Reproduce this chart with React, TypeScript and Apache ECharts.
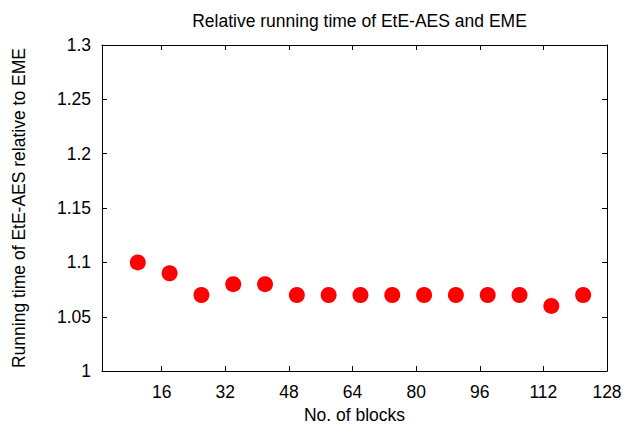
import React, { useEffect, useRef } from "react";
import * as echarts from "echarts";

const blocks = [10, 18, 26, 34, 42, 50, 58, 66, 74, 82, 90, 98, 106, 114, 122];
const ratios = [1.1, 1.09, 1.07, 1.08, 1.08, 1.07, 1.07, 1.07, 1.07, 1.07, 1.07, 1.07, 1.07, 1.06, 1.07];
const xTicks = [16, 32, 48, 64, 80, 96, 112, 128];
const yMin = 1;
const yMax = 1.3;
const yStep = 0.05;
const xMin = 1;
const xMax = 128;

const titleText = "Relative running time of EtE-AES and EME";
const xName = "No. of blocks";
const yName = "Running time of EtE-AES relative to EME";

const FONT = "'Liberation Sans', Arial, sans-serif";
const FS = 17.5;

export default function App() {
  const ref = useRef<HTMLDivElement>(null);
  useEffect(() => {
    if (!ref.current) return;
    const chart = echarts.init(ref.current, null, { renderer: "svg" });
    const line = { show: true, lineStyle: { color: "#000", width: 1 } };
    const tick = { show: true, inside: true, length: 5, lineStyle: { color: "#000", width: 1 } };
    chart.setOption({
      animation: false,
      backgroundColor: "#fff",
      textStyle: { fontFamily: FONT },
      title: {
        text: titleText,
        left: 354.5,
        textAlign: "center",
        top: 7,
        textStyle: { fontFamily: FONT, fontSize: FS, fontWeight: "normal", color: "#000" },
      },
      grid: { left: 102, right: 18, top: 45, bottom: 51, containLabel: false },
      xAxis: [
        {
          type: "value",
          min: xMin,
          max: xMax,
          position: "bottom",
          name: xName,
          nameLocation: "middle",
          nameGap: 34,
          nameTextStyle: { fontFamily: FONT, fontSize: FS, color: "#000" },
          axisLine: line,
          axisTick: { ...tick, customValues: xTicks },
          axisLabel: {
            customValues: xTicks,
            margin: 12,
            fontFamily: FONT,
            fontSize: FS,
            color: "#000",
          },
          splitLine: { show: false },
        },
        {
          type: "value",
          min: xMin,
          max: xMax,
          position: "top",
          axisLine: line,
          axisTick: { ...tick, customValues: xTicks },
          axisLabel: { show: false, customValues: xTicks },
          splitLine: { show: false },
        },
      ],
      yAxis: [
        {
          type: "value",
          min: yMin,
          max: yMax,
          interval: yStep,
          position: "left",
          name: yName,
          nameLocation: "middle",
          nameGap: 74,
          nameTextStyle: { fontFamily: FONT, fontSize: FS, color: "#000" },
          axisLine: line,
          axisTick: tick,
          axisLabel: {
            margin: 11,
            fontFamily: FONT,
            fontSize: FS,
            color: "#000",
            formatter: (v: number) => String(+v.toFixed(2)),
          },
          splitLine: { show: false },
        },
        {
          type: "value",
          min: yMin,
          max: yMax,
          interval: yStep,
          position: "right",
          axisLine: line,
          axisTick: tick,
          axisLabel: { show: false },
          splitLine: { show: false },
        },
      ],
      series: [
        {
          type: "scatter",
          xAxisIndex: 0,
          yAxisIndex: 0,
          symbol: "circle",
          symbolSize: 16,
          itemStyle: { color: "#ff0000", opacity: 1 },
          data: blocks.map((b, i) => [b, ratios[i]]),
        },
      ],
    });
    return () => chart.dispose();
  }, []);
  return (
    <div
      ref={ref}
      style={{ position: "fixed", left: 0, top: 0, width: 625, height: 429, background: "#fff" }}
    />
  );
}
